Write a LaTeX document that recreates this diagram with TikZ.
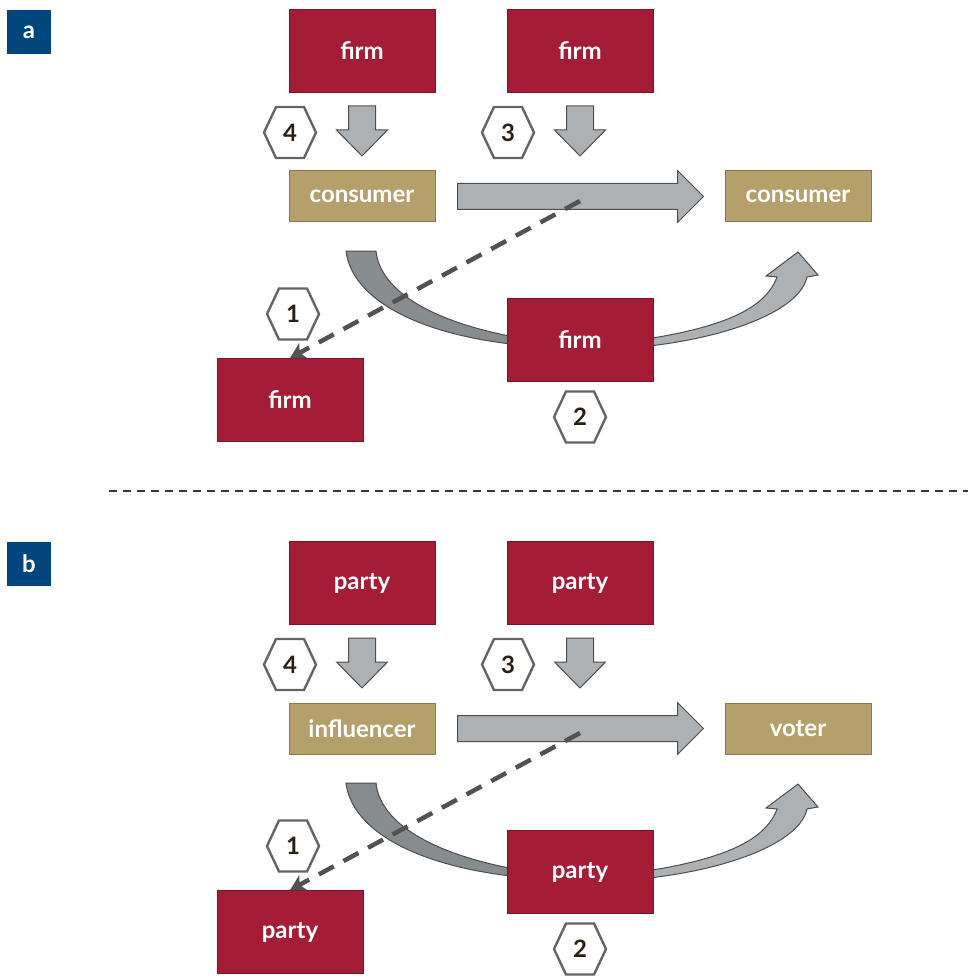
\documentclass[tikz,border=0pt]{standalone}
\usepackage{fontspec}
\setmainfont{Lato}
\usetikzlibrary{arrows.meta,positioning}
\definecolor{firmred}{RGB}{165,28,54}
\definecolor{firmedge}{RGB}{122,21,39}
\definecolor{agenttan}{RGB}{181,160,107}
\definecolor{agentedge}{RGB}{140,122,70}
\definecolor{panelblue}{RGB}{0,69,124}
\definecolor{blockgray}{RGB}{173,177,180}
\definecolor{curvegray}{RGB}{135,140,142}
\definecolor{edgegray}{RGB}{77,77,77}
\definecolor{hexgray}{RGB}{100,100,100}
\definecolor{dashgray}{RGB}{82,82,82}
\definecolor{numtext}{RGB}{42,31,20}
\definecolor{sepgray}{RGB}{59,51,43}

% block arrows and step hexagons
\newcommand{\downblock}[1]{%
  \draw[blockarrow] (#1) ++(-13.5,0) -- ++(27,0) -- ++(0,24) -- ++(12,0)
    -- ++(-25.5,26) -- ++(-25.5,-26) -- ++(12,0) -- cycle;}
\newcommand{\rightblock}[1]{%
  \draw[blockarrow] (#1) ++(0,-13) -- ++(220,0) -- ++(0,-13) -- ++(26,26)
    -- ++(-26,26) -- ++(0,-13) -- ++(-220,0) -- cycle;}
\newcommand{\stephex}[3]{%
  \node[stepnum] (#1) at (#2) {#3};
  \draw[hexline] ([xshift=-26pt]#1.center) -- ++(12,-25.5) -- ++(28,0)
    -- ++(12,25.5) -- ++(-12,25.5) -- ++(-28,0) -- cycle;}

\begin{document}
\begin{tikzpicture}[
  x=1pt,y=-1pt,
  every node/.style={font=\bfseries\fontsize{24}{28}\selectfont},
  firmbox/.style={draw=firmedge,fill=firmred,text=white,line width=1pt,minimum width=146pt,minimum height=83pt},
  agentbox/.style={draw=agentedge,fill=agenttan,text=white,line width=1pt,minimum width=146pt,minimum height=51pt},
  panellabel/.style={fill=panelblue,text=white,minimum size=44pt,inner sep=0pt},
  stepnum/.style={text=numtext,inner sep=0pt},
  hexline/.style={draw=hexgray,line width=2.4pt,line join=miter},
  blockarrow/.style={fill=blockgray,draw=edgegray,line width=1pt,line join=miter},
  curveleft/.style={fill=curvegray,draw=edgegray,line width=1pt},
  curveright/.style={fill=blockgray,draw=edgegray,line width=1pt},
  dasharrow/.style={draw=dashgray,line width=4.5pt,dash pattern=on 17pt off 11pt,
    -{Stealth[length=15pt,width=17pt,inset=4pt]}},
]
  \useasboundingbox (0,0) rectangle (968,976);

  \foreach \p/\dy/\org/\lft/\rgt in {a/0/firm/consumer/consumer,b/532/party/influencer/voter}{
  \begin{scope}[shift={(0,\dy)}]
    % curved arrow behind the middle box
    \path[curveleft] (346,251) -- (376,251) .. controls (380,290) and (430,322) .. (520,338)
      -- (520,345) .. controls (420,335) and (352,300) .. (346,251) -- cycle;
    \path[curveright] (640,340) .. controls (720,328) and (765,310) .. (777,277) -- (766,276)
      -- (798,252) -- (818,275) -- (807,277) .. controls (800,310) and (730,338) .. (640,347) -- cycle;

    \node[panellabel] (\p-label) at (29,32) {\p};

    \node[firmbox] (\p-firm1) at (362,51) {\org};
    \node[firmbox] (\p-firm2) at (580,51) {\org};
    \node[agentbox] (\p-agent1) at (362,196.5) {\lft};
    \node[agentbox] (\p-agent2) at (798,196.5) {\rgt};
    \node[firmbox] (\p-firm3) at (580,340) {\org};
    \node[firmbox] (\p-firm4) at (290,400) {\org};

    \stephex{\p-step4}{290,132.5}{4}
    \stephex{\p-step3}{508,132.5}{3}
    \stephex{\p-step1}{293,314}{1}
    \stephex{\p-step2}{580,417}{2}

    \downblock{[yshift=-13pt]\p-firm1.south}
    \downblock{[yshift=-13pt]\p-firm2.south}
    \rightblock{[xshift=22pt]\p-agent1.east}

    \coordinate (\p-tail) at (580,201);
    \draw[dasharrow] (\p-tail) -- (\p-firm4.north);
  \end{scope}
  }

  % panel separator
  \draw[sepgray,line width=2pt,dash pattern=on 8pt off 6pt] (109,491) -- (968,491);
\end{tikzpicture}
\end{document}
